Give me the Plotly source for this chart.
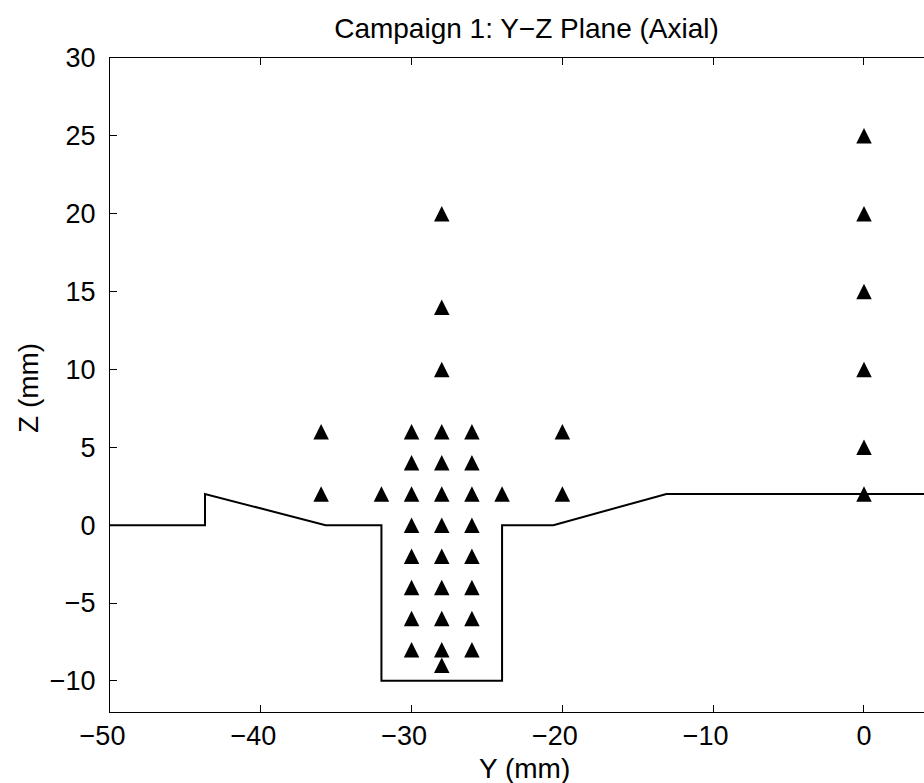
import plotly.graph_objects as go

# Measurement locations in the Y-Z plane (mm)
probe_y = [-28, -28, -28,
           -30, -28, -26,
           -30, -28, -26,
           -36, -32, -30, -28, -26, -24, -20,
           -36, -20,
           -30, -28, -26,
           -30, -28, -26,
           -30, -28, -26,
           -30, -28, -26,
           -30, -28, -26,
           -28,
           0, 0, 0, 0, 0, 0]
probe_z = [20, 14, 10,
           6, 6, 6,
           4, 4, 4,
           2, 2, 2, 2, 2, 2, 2,
           6, 6,
           0, 0, 0,
           -2, -2, -2,
           -4, -4, -4,
           -6, -6, -6,
           -8, -8, -8,
           -9,
           25, 20, 15, 10, 5, 2]

# Wall / cavity outline (mm)
wall_y = [-50, -43.7, -43.7, -35.7, -32, -32, -24, -24, -20.6, -13.1, 5]
wall_z = [0, 0, 2, 0, 0, -10, -10, 0, 0, 2, 2]

x_ticks = [-50, -40, -30, -20, -10, 0]
# negative labels carry a trailing figure space so the digits sit centred on the tick
x_tick_text = ["\u221250\u2007", "\u221240\u2007", "\u221230\u2007",
               "\u221220\u2007", "\u221210\u2007", "0"]
y_ticks = [-10, -5, 0, 5, 10, 15, 20, 25, 30]

FONT = "Liberation Sans, Arial, Helvetica, sans-serif"

fig = go.Figure()

fig.add_trace(go.Scatter(
    x=wall_y, y=wall_z, mode="lines",
    line=dict(color="black", width=2),
    hoverinfo="skip", showlegend=False,
))

fig.add_trace(go.Scatter(
    x=probe_y, y=probe_z, mode="markers",
    marker=dict(symbol="arrow-down", angle=180, standoff=7.75,
                size=15.5, color="black", line=dict(width=0)),
    showlegend=False,
))

fig.update_layout(
    width=924, height=783,
    margin=dict(l=110, r=0, t=58, b=71),
    paper_bgcolor="white", plot_bgcolor="white",
    font=dict(family=FONT, color="black", size=27),
    title=dict(text="Campaign 1: Y\u2212Z Plane (Axial)",
               xref="container", yref="container",
               x=526.5 / 924, y=1 - 28 / 783,
               xanchor="center", yanchor="middle",
               font=dict(family=FONT, size=28, color="black")),
    xaxis=dict(range=[-50, 3.98], tickvals=x_ticks, ticktext=x_tick_text,
               ticks="inside", ticklen=7, tickwidth=1, tickcolor="black",
               showline=True, linecolor="black", linewidth=1,
               mirror="ticks", showgrid=False, zeroline=False,
               tickfont=dict(size=27)),
    yaxis=dict(range=[-12, 30], tickvals=y_ticks,
               ticks="inside", ticklen=7, tickwidth=1, tickcolor="black",
               showline=True, linecolor="black", linewidth=1,
               mirror=False, showgrid=False, zeroline=False,
               tickfont=dict(size=27), ticklabelstandoff=8),
    annotations=[
        dict(text="Y (mm)", xref="paper", yref="paper",
             x=(524 - 110) / 814, y=(712 - 768) / 654,
             xanchor="center", yanchor="middle", showarrow=False,
             font=dict(family=FONT, size=28, color="black")),
        dict(text="Z (mm)", xref="paper", yref="paper",
             x=(28 - 110) / 814, y=(712 - 388) / 654, textangle=-90,
             xanchor="center", yanchor="middle", showarrow=False,
             font=dict(family=FONT, size=28, color="black")),
    ],
)

fig.write_html("out.html")
